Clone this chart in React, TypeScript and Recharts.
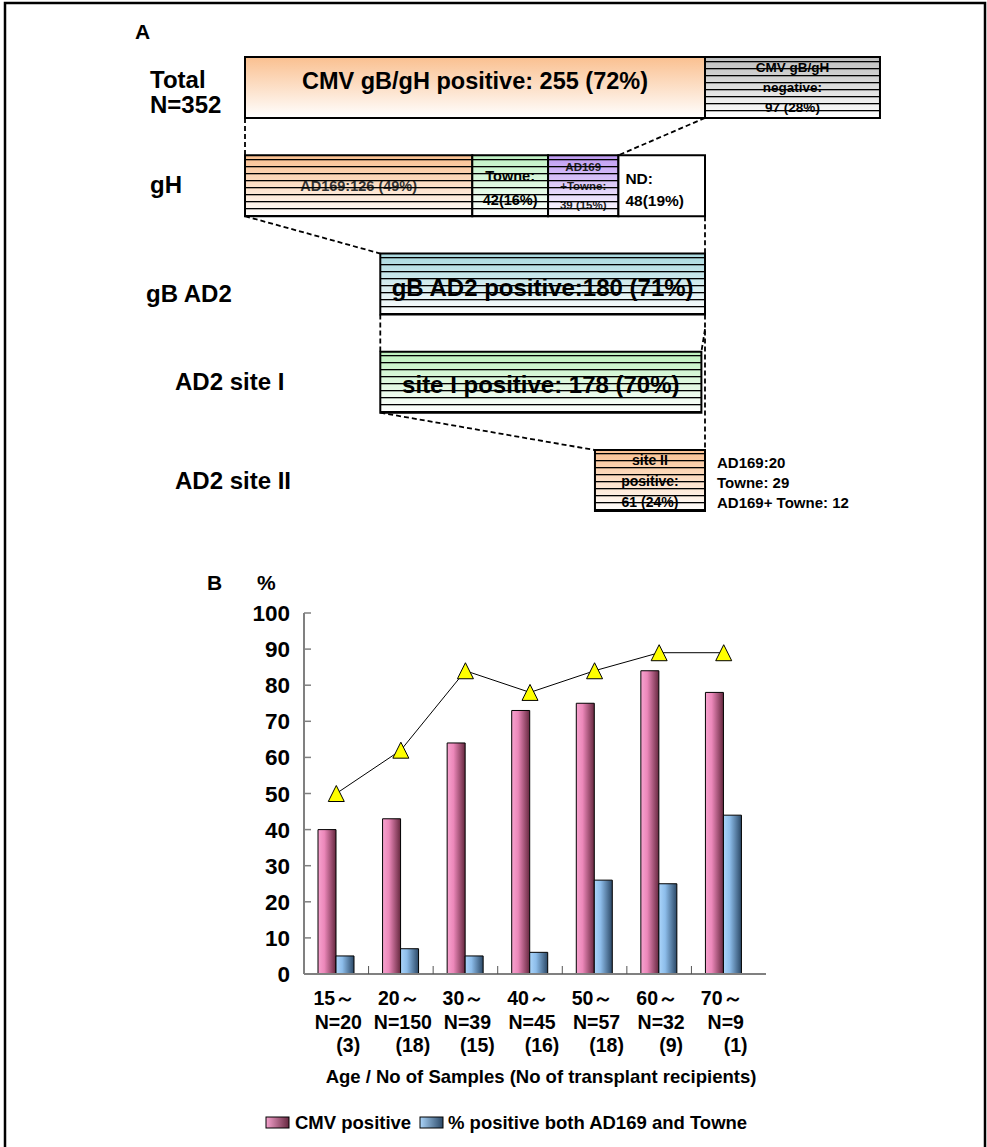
import React from 'react';
import { ComposedChart, XAxis, YAxis, ReferenceArea, ReferenceLine, Bar, Line } from 'recharts';

const FONT = '"Liberation Sans", Arial, Helvetica, sans-serif';

// ---- panel A: CMV genotype breakdown ----
const totalN = 352;
const cmvPositive = { count: 255, pct: 72 };
const cmvNegative = { count: 97, pct: 28 };
const ghTypes = ['AD169', 'Towne', 'AD169+Towne', 'ND'];
const ghCounts = [126, 42, 39, 48];
const ghPct = [49, 16, 15, 19];
const gbAd2 = { count: 180, pct: 71 };
const siteI = { count: 178, pct: 70 };
const siteII = { count: 61, pct: 24 };
const siteIITypes = ['AD169:', 'Towne: ', 'AD169+ Towne: '];
const siteIICounts = [20, 29, 12];
const rowNames = ['Total', 'gH', 'gB AD2', 'AD2 site I', 'AD2 site II'];

// ---- panel B: by age group ----
const ageGroups = ['15～', '20～', '30～', '40～', '50～', '60～', '70～'];
const sampleCounts = [20, 150, 39, 45, 57, 32, 9];
const recipientCounts = [3, 18, 15, 16, 18, 9, 1];
const cmvPositivePct = [40, 43, 64, 73, 75, 84, 78];
const bothStrainPct = [5, 7, 5, 6, 26, 25, 44];
const gbghPositivePct = [50, 62, 84, 78, 84, 89, 89];
const pctTicks = [0, 10, 20, 30, 40, 50, 60, 70, 80, 90, 100];

const ageData = ageGroups.map((g, i) => ({
  age: g,
  cmv: cmvPositivePct[i],
  both: bothStrainPct[i],
  tri: gbghPositivePct[i],
}));

const BOX_H = 0.62;

const boxText = (lines: string[], size: number, opts: any = {}) => (p: any) => {
  const vb = p.viewBox || p;
  const { x, y, width, height } = vb;
  const lh = opts.lh ?? size * 1.2;
  const tx = opts.left != null ? x + opts.left : x + width / 2;
  const cy = y + height / 2 + (opts.dy ?? 0);
  return (
    <text fontFamily={FONT} fontWeight="bold" fontSize={size} fill={opts.color ?? '#000'}
      textAnchor={opts.left != null ? 'start' : 'middle'}>
      {lines.map((l, i) => (
        <tspan key={i} x={tx} y={cy + (i - (lines.length - 1) / 2) * lh + size * 0.36}>{l}</tspan>
      ))}
    </text>
  );
};

const box = (k: string, x1: number, x2: number, row: number, grad: string, striped: boolean, label: any) => [
  <ReferenceArea key={k + 'f'} x1={x1} x2={x2} y1={row} y2={row + BOX_H} fill={`url(#${grad})`}
    fillOpacity={1} stroke="none" label={label} ifOverflow="visible" />,
  <ReferenceArea key={k + 's'} x1={x1} x2={x2} y1={row} y2={row + BOX_H}
    fill={striped ? 'url(#stripes)' : 'none'} fillOpacity={1} stroke="#000" strokeWidth={2} ifOverflow="visible" />,
];

const dash = (k: string, a: [number, number], b: [number, number]) => (
  <ReferenceLine key={k} segment={[{ x: a[0], y: a[1] }, { x: b[0], y: b[1] }]} stroke="#000"
    strokeWidth={1.8} strokeDasharray="5 3" ifOverflow="visible" />
);

const PanelA = () => {
  const pos = cmvPositive.count;
  const ghStarts = ghCounts.map((_, i) => ghCounts.slice(0, i).reduce((s, v) => s + v, 0));
  const gbStart = pos - gbAd2.count;
  const s2Start = pos - siteII.count;
  const ghFills = ['gPeach', 'gGreen', 'gPurple', 'gWhite'];
  const ghLabels = [
    boxText([`${ghTypes[0]}:${ghCounts[0]} (${ghPct[0]}%)`], 14.5, { color: '#333' }),
    boxText([`${ghTypes[1]}:`, `${ghCounts[1]}(${ghPct[1]}%)`], 14.5, { lh: 24, dy: 2 }),
    boxText(['AD169', '+Towne:', `${ghCounts[2]} (${ghPct[2]}%)`], 11.5, { lh: 19, color: '#222' }),
    boxText([`${ghTypes[3]}:`, `${ghCounts[3]}(${ghPct[3]}%)`], 15.5, { lh: 22, left: 7, dy: 4 }),
  ];
  return (
    <ComposedChart width={987} height={530} data={[{ x: 0, y: 0 }]}
      margin={{ top: 57, left: 245, right: 987 - 245 - 400 * (460 / 255), bottom: 19 }}>
      <defs>
        {[
          ['gPeach', '#FAC090'], ['gGray', '#BDBDBD'], ['gGreen', '#C0F2C4'], ['gPurple', '#BE9AF2'],
          ['gWhite', '#FFFFFF'], ['gBlue', '#A8D8DE'], ['gGreen2', '#BEF2BE'],
        ].map(([id, c]) => (
          <linearGradient key={id} id={id} x1="0" y1="0" x2="0" y2="1">
            <stop offset="0" stopColor={c} />
            <stop offset="1" stopColor="#FFFFFF" />
          </linearGradient>
        ))}
        <pattern id="stripes" patternUnits="userSpaceOnUse" width="10" height="7">
          <rect x="0" y="5" width="10" height="1.3" fill="#000" />
        </pattern>
      </defs>
      <XAxis type="number" dataKey="x" domain={[0, 400]} hide allowDataOverflow />
      <YAxis type="number" dataKey="y" domain={[0, 4 + BOX_H]} reversed hide allowDataOverflow />
      {box('pos', 0, pos, 0, 'gPeach', false,
        boxText([`CMV  gB/gH positive: ${cmvPositive.count} (${cmvPositive.pct}%)`], 23.5, { dy: -7 }))}
      {box('neg', pos, totalN, 0, 'gGray', true,
        boxText(['CMV gB/gH', 'negative:', `${cmvNegative.count} (${cmvNegative.pct}%)`], 13.5, { lh: 20 }))}
      {ghCounts.map((c, i) =>
        box('gh' + i, ghStarts[i], ghStarts[i] + c, 1, ghFills[i], i < 3, ghLabels[i]))}
      {box('gb', gbStart, pos, 2, 'gBlue', true,
        boxText([`gB AD2 positive:${gbAd2.count} (${gbAd2.pct}%)`], 24, { dy: 3 }))}
      {box('s1', gbStart, gbStart + siteI.count, 3, 'gGreen2', true,
        boxText([`site I positive: ${siteI.count} (${siteI.pct}%)`], 24, { dy: 2 }))}
      {box('s2', s2Start, pos, 4, 'gPeach', true,
        boxText(['site II', 'positive:', `${siteII.count} (${siteII.pct}%)`], 14, { lh: 21 }))}
      {dash('d1', [0, BOX_H], [0, 1])}
      {dash('d2', [pos, BOX_H], [ghStarts[3], 1])}
      {dash('d3', [0, 1 + BOX_H], [gbStart, 2])}
      {dash('d4', [pos, 1 + BOX_H], [pos, 2])}
      {dash('d5', [gbStart, 2 + BOX_H], [gbStart, 3])}
      {dash('d6', [pos, 2 + BOX_H], [pos, 4])}
      {dash('d7', [pos, 2 + BOX_H + 0.15], [gbStart + siteI.count, 3])}
      {dash('d8', [gbStart, 3 + BOX_H], [s2Start, 4])}
    </ComposedChart>
  );
};

const Tri = (p: any) => {
  const { cx, cy } = p;
  if (cx == null || cy == null) return null;
  return (
    <polygon points={`${cx},${cy - 8} ${cx - 8},${cy + 8} ${cx + 8},${cy + 8}`}
      fill="#FFFF00" stroke="#000" strokeWidth={1} />
  );
};

const PctTick = (p: any) => {
  const { x, y, payload } = p;
  return (
    <g>
      <text x={x} y={y} dy={8} textAnchor="end" fontFamily={FONT} fontWeight="bold" fontSize={22.5} fill="#000">
        {payload.value}
      </text>
      <line x1={x + 14} x2={x + 21} y1={y} y2={y} stroke="#808080" strokeWidth={1.5} />
    </g>
  );
};

const AgeTick = (p: any) => {
  const { x, y, payload } = p;
  const i = payload.index ?? ageGroups.indexOf(payload.value);
  const half = payload.offset ?? 32.3;
  const t = { fontFamily: FONT, fontWeight: 'bold' as const, fontSize: 19.5, fill: '#000', textAnchor: 'middle' as const };
  return (
    <g>
      {i < ageGroups.length - 1 && (
        <line x1={x + half} x2={x + half} y1={y} y2={y - 8} stroke="#555" strokeWidth={1} />
      )}
      <text x={x - 2} y={y + 31} {...t}>{ageGroups[i]}</text>
      <text x={x + 2} y={y + 55} {...t}>{`N=${sampleCounts[i]}`}</text>
      <text x={x + 12} y={y + 78} {...t}>{`(${recipientCounts[i]})`}</text>
    </g>
  );
};

const PanelB = () => (
  <ComposedChart width={987} height={560} data={ageData} barGap={0}
    margin={{ top: 73, left: 244, right: 221, bottom: 26 }}>
    <defs>
      <linearGradient id="pinkBar" x1="0" y1="0" x2="1" y2="0">
        <stop offset="0" stopColor="#F7A3CF" />
        <stop offset="0.35" stopColor="#EC88BA" />
        <stop offset="1" stopColor="#66283F" />
      </linearGradient>
      <linearGradient id="blueBar" x1="0" y1="0" x2="1" y2="0">
        <stop offset="0" stopColor="#ABD5FA" />
        <stop offset="0.35" stopColor="#8DBDEA" />
        <stop offset="1" stopColor="#2B4866" />
      </linearGradient>
    </defs>
    <XAxis dataKey="age" type="category" padding={{ left: 0, right: 10 }} height={100}
      axisLine={{ stroke: '#808080', strokeWidth: 2 }} tickLine={false} tickSize={0} tickMargin={0}
      tick={<AgeTick />} interval={0} />
    <XAxis xAxisId="top" dataKey="age" orientation="top" height={0} tick={false} tickLine={false}
      axisLine={{ stroke: '#909090', strokeWidth: 1.5 }} />
    <YAxis type="number" domain={[0, 100]} ticks={pctTicks} width={60} interval={0}
      axisLine={{ stroke: '#808080', strokeWidth: 2 }} tickLine={false} tickSize={0} tickMargin={14}
      tick={<PctTick />} />
    <YAxis yAxisId="right" orientation="right" type="number" domain={[0, 100]} width={0}
      tick={false} tickLine={false} axisLine={{ stroke: '#909090', strokeWidth: 1.5 }} />
    <Bar dataKey="cmv" name="CMV positive" barSize={18} fill="url(#pinkBar)" stroke="#000" strokeWidth={1}
      isAnimationActive={false} />
    <Bar dataKey="both" name="% positive both AD169 and Towne" barSize={18} fill="url(#blueBar)"
      stroke="#000" strokeWidth={1} isAnimationActive={false} />
    <Line dataKey="tri" type="linear" stroke="#000" strokeWidth={1} dot={<Tri />} activeDot={false}
      isAnimationActive={false} legendType="none" />
  </ComposedChart>
);

const txt = { fontFamily: FONT, fontWeight: 'bold' as const, fill: '#000' };

export default function App() {
  return (
    <div style={{ position: 'absolute', left: 0, top: 0, width: 987, height: 1147, background: '#fff', overflow: 'hidden' }}>
      <div style={{ position: 'absolute', left: 0, top: 0 }}><PanelA /></div>
      <div style={{ position: 'absolute', left: 0, top: 540 }}><PanelB /></div>
      <svg width={987} height={1147} style={{ position: 'absolute', left: 0, top: 0, pointerEvents: 'none' }}>
        <rect x={5} y={3} width={980} height={1160} fill="none" stroke="#000" strokeWidth={2.5} />
        <text x={135} y={39} fontSize={21} {...txt}>A</text>
        <text x={150} y={88} fontSize={24} {...txt}>{rowNames[0]}</text>
        <text x={150} y={113} fontSize={24} {...txt}>{`N=${totalN}`}</text>
        <text x={150} y={193} fontSize={24} {...txt}>{rowNames[1]}</text>
        <text x={146} y={302} fontSize={24} {...txt}>{rowNames[2]}</text>
        <text x={175} y={390} fontSize={24} {...txt}>{rowNames[3]}</text>
        <text x={175} y={489} fontSize={24} {...txt}>{rowNames[4]}</text>
        {siteIITypes.map((t, i) => (
          <text key={t} x={717} y={468 + i * 20} fontSize={15} {...txt}>{`${t}${siteIICounts[i]}`}</text>
        ))}
        <text x={207} y={590} fontSize={21} {...txt}>B</text>
        <text x={257} y={590} fontSize={21} {...txt}>%</text>
        <text x={541} y={1083} fontSize={18.5} textAnchor="middle" {...txt}>
          Age / No of Samples (No of transplant recipients)
        </text>
        <rect x={266} y={1117} width={23} height={11} fill="url(#pinkBarL)" stroke="#000" strokeWidth={1} />
        <text x={295} y={1129} fontSize={18.5} {...txt}>CMV positive</text>
        <rect x={420} y={1117} width={23} height={11} fill="url(#blueBarL)" stroke="#000" strokeWidth={1} />
        <text x={448} y={1129} fontSize={18.5} {...txt}>% positive both AD169 and Towne</text>
        <defs>
          <linearGradient id="pinkBarL" x1="0" y1="0" x2="1" y2="0">
            <stop offset="0" stopColor="#F7A3CF" />
            <stop offset="1" stopColor="#66283F" />
          </linearGradient>
          <linearGradient id="blueBarL" x1="0" y1="0" x2="1" y2="0">
            <stop offset="0" stopColor="#ABD5FA" />
            <stop offset="1" stopColor="#2B4866" />
          </linearGradient>
        </defs>
      </svg>
    </div>
  );
}
